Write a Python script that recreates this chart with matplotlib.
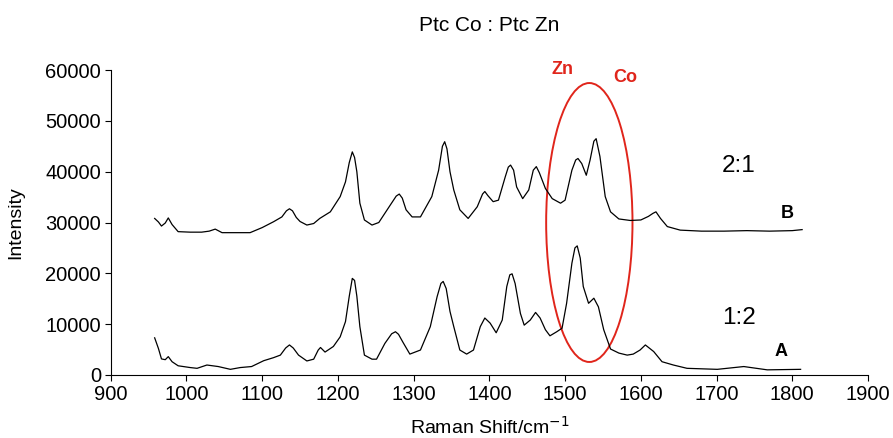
import matplotlib.pyplot as plt
from matplotlib.patches import Ellipse

plt.rcParams['font.family'] = ['Liberation Sans', 'DejaVu Sans']

# spectrum B (Ptc Co : Ptc Zn = 2:1)
shift_b = [958, 963, 967, 972, 976, 981, 989, 1005, 1020, 1030, 1038, 1047, 1060, 1084,
           1100, 1115, 1126, 1132, 1136, 1140, 1145, 1150, 1159, 1168, 1176, 1190, 1203,
           1210, 1215, 1219, 1222, 1225, 1229, 1235, 1245, 1254, 1269, 1277, 1281, 1285,
           1290, 1298, 1309, 1324, 1333, 1338, 1341, 1344, 1348, 1353, 1361, 1372, 1384,
           1391, 1394, 1398, 1405, 1412, 1421, 1425, 1428, 1432, 1436, 1444, 1452, 1458,
           1462, 1466, 1474, 1483, 1494, 1500, 1509, 1514, 1517, 1522, 1528, 1533, 1538,
           1541, 1546, 1553, 1560, 1571, 1586, 1600, 1610, 1616, 1620, 1626, 1635, 1652,
           1680, 1710, 1740, 1770, 1800, 1813]
int_b = [30800, 30100, 29300, 29900, 30900, 29600, 28200, 28100, 28100, 28300, 28700, 28000,
         28000, 28000, 29000, 30150, 31100, 32300, 32700, 32300, 31000, 30200, 29500, 29800,
         30800, 32100, 35100, 38000, 41800, 43900, 42800, 40000, 33800, 30500, 29500, 30000,
         33400, 35200, 35600, 34800, 32500, 31100, 31100, 35100, 40300, 45000, 45900, 44500,
         40000, 36400, 32500, 30800, 33100, 35600, 36100, 35300, 34100, 34400, 39000, 40900,
         41300, 40300, 37000, 34700, 36400, 40300, 41000, 39800, 36700, 34700, 33800, 34400,
         40300, 42300, 42600, 41600, 39300, 42300, 46000, 46500, 43000, 35100, 32100, 30700,
         30400, 30500, 31200, 31800, 32100, 30800, 29200, 28500, 28300, 28300, 28400, 28300,
         28400, 28600]

# spectrum A (Ptc Co : Ptc Zn = 1:2)
shift_a = [958, 963, 967, 972, 976, 981, 989, 1005, 1014, 1027, 1042, 1058, 1071, 1086,
           1102, 1115, 1124, 1131, 1136, 1141, 1148, 1159, 1168, 1174, 1177, 1183, 1194,
           1203, 1210, 1215, 1219, 1222, 1225, 1229, 1235, 1245, 1251, 1262, 1271, 1276,
           1280, 1286, 1295, 1309, 1322, 1331, 1336, 1339, 1343, 1348, 1353, 1361, 1370,
           1379, 1388, 1394, 1401, 1409, 1417, 1423, 1427, 1430, 1434, 1441, 1446, 1454,
           1461, 1467, 1474, 1480, 1489, 1496, 1502, 1509, 1513, 1516, 1520, 1524, 1531,
           1538, 1544, 1551, 1560, 1571, 1582, 1590, 1599, 1606, 1617, 1628, 1643, 1661,
           1701, 1736, 1767, 1811]
int_a = [7300, 5200, 3150, 3000, 3600, 2600, 1800, 1450, 1300, 1950, 1650, 1100, 1450, 1650,
         2800, 3400, 3900, 5300, 5900, 5300, 3900, 2750, 3100, 4900, 5400, 4500, 5600, 7500,
         10500, 15500, 19000, 18600, 15500, 9500, 3900, 3100, 3100, 6200, 8100, 8500, 8000,
         6400, 4100, 4900, 9500, 15400, 18000, 18400, 17000, 12500, 9500, 4900, 4100, 4900,
         9500, 11200, 10200, 8300, 10800, 17400, 19700, 19900, 18000, 12100, 9800, 10800,
         12300, 11200, 8900, 7700, 8500, 9200, 14100, 22000, 25000, 25400, 23000, 17400,
         14100, 15100, 13400, 8900, 5100, 4300, 3900, 4100, 4900, 5900, 4600, 2600, 1950,
         1300, 1100, 1650, 1000, 1100]

xticks = list(range(900, 2000, 100))
yticks = list(range(0, 70000, 10000))

fig = plt.figure(figsize=(8.93, 4.38), dpi=100)
ax = fig.add_axes([0.124, 0.144, 0.848, 0.696])

ax.plot(shift_b, int_b, color='black', lw=0.9)
ax.plot(shift_a, int_a, color='black', lw=0.9)

# red ellipse around the Zn / Co bands
ax.add_patch(Ellipse((1532, 30000), 114, 54900, fill=False, edgecolor='#e0251b',
                     lw=1.4, clip_on=False))

ax.text(1497, 60200, 'Zn', color='#e0251b', fontsize=13, fontweight='bold',
        ha='center', va='center', clip_on=False)
ax.text(1580, 58500, 'Co', color='#e0251b', fontsize=13, fontweight='bold',
        ha='center', va='center', clip_on=False)
ax.text(1729, 41100, '2:1', fontsize=17.5, ha='center', va='center')
ax.text(1730, 11150, '1:2', fontsize=17.5, ha='center', va='center')
ax.text(1793, 31700, 'B', fontsize=13, fontweight='bold', ha='center', va='center')
ax.text(1785, 4600, 'A', fontsize=13, fontweight='bold', ha='center', va='center')

ax.set_xlim(900, 1900)
ax.set_ylim(0, 60000)
ax.set_xticks(xticks)
ax.set_yticks(yticks)
ax.tick_params(labelsize=14.5, direction='out', length=4, width=0.8, pad=3)
ax.spines['top'].set_visible(False)
ax.spines['right'].set_visible(False)
for s in ['left', 'bottom']:
    ax.spines[s].set_linewidth(0.8)

ax.set_xlabel('Raman Shift/cm$^{-1}$', fontsize=14, labelpad=9)
ax.set_ylabel('Intensity', fontsize=14, labelpad=15)
ax.set_title('Ptc Co : Ptc Zn', fontsize=15, pad=28)

fig.savefig('out.png', dpi=100)
